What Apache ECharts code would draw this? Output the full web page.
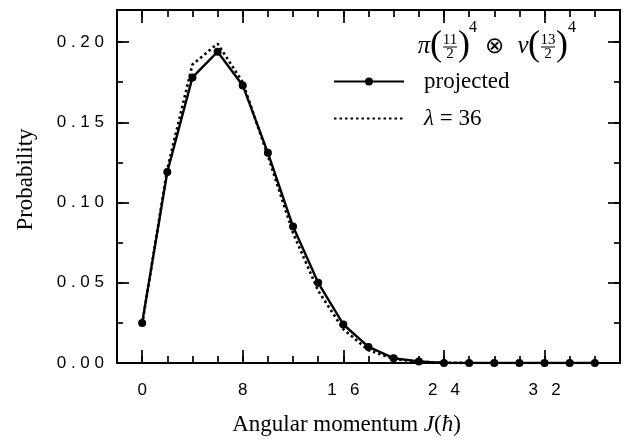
<!DOCTYPE html>
<html>
<head>
<meta charset="utf-8">
<script src="https://cdn.jsdelivr.net/npm/echarts@6/dist/echarts.min.js"></script>
<style>
  html, body { margin: 0; padding: 0; background: #fff; }
  #chart { width: 639px; height: 441px; }
</style>
</head>
<body>
<div id="chart"></div>
<script>
// Angular momentum J (units of hbar), even values only
const J = [0, 2, 4, 6, 8, 10, 12, 14, 16, 18, 20, 22, 24, 26, 28, 30, 32, 34, 36];

// Probability of each J in the projected state
const projected = [0.025, 0.119, 0.178, 0.194, 0.173, 0.131, 0.085, 0.050, 0.024, 0.010,
                   0.003, 0.001, 0, 0, 0, 0, 0, 0, 0];

// Comparison distribution for lambda = 36
const lambdaJ = [0, 2, 4, 6, 8, 10, 12, 14, 16, 18, 20, 22, 24, 26];
const lambda36 = [0.024, 0.121, 0.186, 0.199, 0.175, 0.129, 0.081, 0.045, 0.021, 0.008,
                  0.0025, 0.0008, 0.0002, 0];

// Tick positions
const xMajorTicks = [0, 8, 16, 24, 32];
const xMinorStep = 2;
const yMajorStep = 0.05;
const yMinorStep = 0.025;

const serif = '"Liberation Serif", "Times New Roman", Times, serif';
const sans = '"Liberation Sans", Arial, Helvetica, sans-serif';

// Old-style typeset numbers: characters spread apart
function spreadX(v) { return String(v).split('').join('\u2002 '); }
function spreadY(v) {
  if (v > 0.2001) return '';
  return v.toFixed(2).split('').join(' ');
}

const chart = echarts.init(document.getElementById('chart'), null, { renderer: 'canvas' });

const tickStyle = { color: '#000', width: 1.7 };
const xRange = { min: -2, max: 38 };
const yRange = { min: 0, max: 0.22 };
const noLine = { show: false, onZero: false };

function xMajor(position, labels) {
  return Object.assign({
    type: 'value', position: position, gridIndex: 0,
    axisLine: noLine, splitLine: { show: false },
    axisTick: { show: true, inside: true, length: 13, customValues: xMajorTicks, lineStyle: tickStyle },
    axisLabel: labels ? {
      show: true, customValues: xMajorTicks, formatter: spreadX, margin: 19,
      fontFamily: sans, fontSize: 17, color: '#000'
    } : { show: false }
  }, xRange);
}
function xMinor(position) {
  return Object.assign({
    type: 'value', position: position, gridIndex: 0, interval: xMinorStep,
    axisLine: noLine, splitLine: { show: false },
    axisTick: { show: true, inside: true, length: 7, lineStyle: tickStyle },
    axisLabel: { show: false }
  }, xRange);
}
function yMajor(position, labels) {
  return Object.assign({
    type: 'value', position: position, gridIndex: 0, interval: yMajorStep,
    axisLine: noLine, splitLine: { show: false },
    axisTick: { show: true, inside: true, length: 12, lineStyle: tickStyle },
    axisLabel: labels ? {
      show: true, formatter: spreadY, margin: 13,
      fontFamily: sans, fontSize: 17, color: '#000'
    } : { show: false }
  }, yRange);
}
function yMinor(position) {
  return Object.assign({
    type: 'value', position: position, gridIndex: 0, interval: yMinorStep,
    axisLine: noLine, splitLine: { show: false },
    axisTick: { show: true, inside: true, length: 6, lineStyle: tickStyle },
    axisLabel: { show: false }
  }, yRange);
}

const xBottom = xMajor('bottom', true);
xBottom.name = 'Angular momentum {i|J}({i|ħ})';
xBottom.nameLocation = 'middle';
xBottom.nameGap = 50;
xBottom.nameTextStyle = {
  fontFamily: serif, fontSize: 23, color: '#000', padding: [0, 44, 0, 0],
  rich: { i: { fontFamily: serif, fontSize: 23, fontStyle: 'italic', color: '#000' } }
};

const yLeft = yMajor('left', true);
yLeft.name = 'Probability';
yLeft.nameLocation = 'middle';
yLeft.nameGap = 80;
yLeft.nameTextStyle = { fontFamily: serif, fontSize: 23, color: '#000', padding: [0, 0, 0, 14] };

const xy = (xs, ys) => xs.map((x, i) => [x, ys[i]]);

// Formula label above the legend: pi(11/2)^4 (x) nu(13/2)^4
const fy = 47;
function fraction(cx, num, den) {
  return [
    { type: 'text', x: cx, y: fy - 7, style: { text: num, fontFamily: serif, fontSize: 15, fill: '#000', align: 'center', verticalAlign: 'middle' } },
    { type: 'line', shape: { x1: cx - 7, y1: fy, x2: cx + 7, y2: fy }, style: { stroke: '#000', lineWidth: 1 } },
    { type: 'text', x: cx, y: fy + 7, style: { text: den, fontFamily: serif, fontSize: 15, fill: '#000', align: 'center', verticalAlign: 'middle' } }
  ];
}
function glyph(x, y, s, size, italic) {
  return { type: 'text', x: x, y: y, style: { text: s, fontFamily: serif, fontSize: size, fill: '#000', fontStyle: italic ? 'italic' : 'normal', align: 'center', verticalAlign: 'middle' } };
}

const formula = [].concat(
  [glyph(424, fy - 1, 'π', 25, true), glyph(436, fy - 1, '(', 36)],
  fraction(450, '11', '2'),
  [glyph(464, fy - 1, ')', 36), glyph(473, fy - 19, '4', 16)],
  [glyph(494, fy, '⊗', 23)],
  [glyph(523, fy - 1, 'ν', 25, true), glyph(534, fy - 1, '(', 36)],
  fraction(548, '13', '2'),
  [glyph(562, fy - 1, ')', 36), glyph(572, fy - 19, '4', 16)]
);

chart.setOption({
  animation: false,
  backgroundColor: '#fff',
  grid: {
    left: 117, top: 10, width: 503, height: 355,
    show: true, borderColor: '#000', borderWidth: 2, backgroundColor: 'transparent'
  },
  xAxis: [xBottom, xMinor('bottom'), xMajor('top', false), xMinor('top')],
  yAxis: [yLeft, yMinor('left'), yMajor('right', false), yMinor('right')],
  legend: {
    orient: 'vertical', left: 328, top: 65,
    itemWidth: 70, itemHeight: 10, itemGap: 14,
    textStyle: {
      fontFamily: serif, fontSize: 23, color: '#000', padding: [0, 0, 0, 15],
      rich: { i: { fontFamily: serif, fontSize: 23, fontStyle: 'italic', color: '#000' } }
    },
    formatter: name => name.replace('λ', '{i|λ}'),
    data: [
      { name: 'projected' },
      { name: 'λ = 36', itemStyle: { opacity: 0 } }
    ]
  },
  graphic: { elements: formula },
  series: [
    {
      name: 'λ = 36', type: 'line', xAxisIndex: 0, yAxisIndex: 0,
      data: xy(lambdaJ, lambda36),
      showSymbol: false, symbol: 'none',
      lineStyle: { color: '#000', width: 2.6, type: [2.5, 3] },
      itemStyle: { color: '#000' },
      z: 2
    },
    {
      name: 'projected', type: 'line', xAxisIndex: 0, yAxisIndex: 0,
      data: xy(J, projected),
      symbol: 'circle', symbolSize: 8,
      lineStyle: { color: '#000', width: 2.4 },
      itemStyle: { color: '#000' },
      z: 3
    }
  ]
});
</script>
</body>
</html>
